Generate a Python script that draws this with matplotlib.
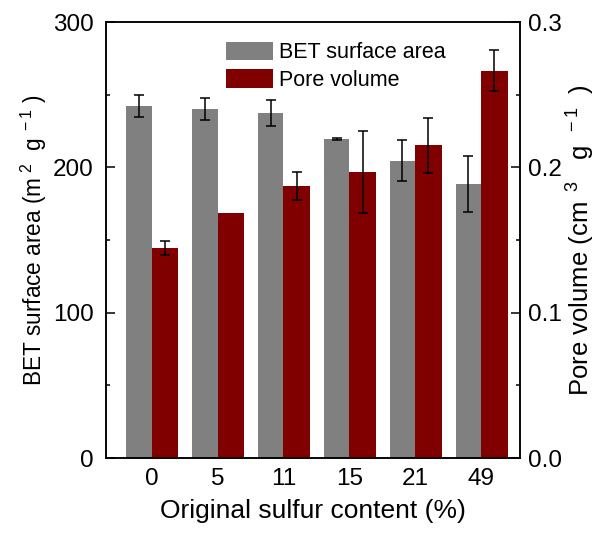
import matplotlib
matplotlib.use("Agg")
import matplotlib.pyplot as plt
import numpy as np
from matplotlib.ticker import MultipleLocator, FormatStrFormatter

plt.rcParams["font.family"] = ["Liberation Sans", "DejaVu Sans"]
plt.rcParams["mathtext.default"] = "regular"

# data
sulfur_labels = ["0", "5", "11", "15", "21", "49"]
bet_area = [242, 240, 237.5, 219.5, 204.5, 188.5]
bet_err = [7.7, 7.7, 9.0, 0.8, 14.2, 19.0]
pore_volume = [0.1447, 0.1684, 0.1872, 0.1966, 0.2152, 0.2666]
pore_err = [0.0048, 0.0, 0.0096, 0.0282, 0.0188, 0.0141]

GRAY = "#808080"
MAROON = "#800000"
TICK_FS = 17.5

fig = plt.figure(figsize=(6.0, 5.34), dpi=100)
ax = fig.add_axes([0.1767, 0.1423, 0.69, 0.8165])
ax2 = ax.twinx()

x = np.arange(len(sulfur_labels))
w_gray, w_red = 0.385, 0.405
err_kw = dict(ecolor="black", elinewidth=1.1, capsize=3.4, capthick=1.1)

b1 = ax.bar(x - w_gray / 2, bet_area, w_gray, color=GRAY,
            yerr=bet_err, error_kw=err_kw)
pv_err = [e if e > 0 else np.nan for e in pore_err]
b2 = ax2.bar(x + w_red / 2, pore_volume, w_red, color=MAROON,
             yerr=pv_err, error_kw=err_kw)

ax.set_xlim(-0.693, 5.592)
ax.set_ylim(0, 300)
ax2.set_ylim(0, 0.3)

ax.set_xticks(x)
ax.set_xticklabels(sulfur_labels)
ax.tick_params(axis="x", length=0, pad=7, labelsize=TICK_FS)

ax.yaxis.set_major_locator(MultipleLocator(100))
ax.yaxis.set_minor_locator(MultipleLocator(50))
ax2.yaxis.set_major_locator(MultipleLocator(0.1))
ax2.yaxis.set_minor_locator(MultipleLocator(0.05))
ax2.yaxis.set_major_formatter(FormatStrFormatter("%.1f"))

for a, pad in ((ax, 9), (ax2, 6)):
    a.tick_params(axis="y", which="major", direction="in", length=6.5,
                  width=1.1, labelsize=TICK_FS, pad=pad)
    a.tick_params(axis="y", which="minor", direction="in", length=3.2, width=1.1)
    for s in a.spines.values():
        s.set_linewidth(1.1)

ax.set_xlabel("Original sulfur content (%)", fontsize=19, labelpad=6.5)
ax.set_ylabel(r"BET surface area (m$^{\;2}\;$ g$^{\;-1}\;$)", fontsize=16.3, labelpad=3)
ax2.set_ylabel(r"Pore volume (cm$^{\;\;3}\;\;$ g$^{\;\;-1}\;\;$)", fontsize=18.5, labelpad=2)

ax.legend([b1, b2], ["BET surface area", "Pore volume"],
          loc="upper left", bbox_to_anchor=(0.289, 0.955),
          frameon=False, fontsize=15.5, handlelength=2.2, handleheight=0.95,
          handletextpad=0.3, labelspacing=0.28, borderpad=0, borderaxespad=0)

fig.savefig("out.png", dpi=100, facecolor="white")
